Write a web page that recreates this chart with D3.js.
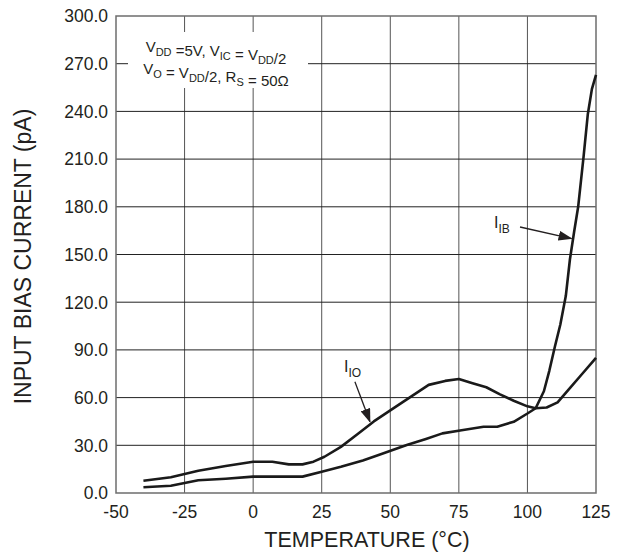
<!DOCTYPE html>
<html>
<head>
<meta charset="utf-8">
<script src="https://cdn.jsdelivr.net/npm/d3@7"></script>
<style>
  body { margin: 0; background: #fff; }
  svg { display: block; }
  text { font-family: "Liberation Sans", Arial, sans-serif; fill: #231f20; }
</style>
</head>
<body>
<svg id="chart" width="623" height="552"></svg>
<script>
// ---- data ----
const xTicks = [-50, -25, 0, 25, 50, 75, 100, 125];
const yTicks = [0, 30, 60, 90, 120, 150, 180, 210, 240, 270, 300];
const yTickLabels = ["0.0", "30.0", "60.0", "90.0", "120.0", "150.0", "180.0", "210.0", "240.0", "270.0", "300.0"];

const ioTemp = [-40, -30, -20, -10, 0, 7, 13, 18, 22, 26, 32, 38, 44, 50, 57, 64, 70, 75, 80, 85, 90, 95, 100, 103, 107, 111, 115, 120, 125];
const ioVal  = [7.7, 9.9, 14, 17, 19.7, 19.7, 18, 18, 19.7, 22.8, 29, 37, 45, 52, 60, 68, 70.5, 71.7, 69, 66.5, 62, 58, 54.5, 53.3, 53.8, 57, 65, 75, 85];

const ibTemp = [-40, -30, -20, -10, 0, 10, 18, 25, 32, 40, 46, 56, 63, 69, 76, 84, 89, 95, 100, 103, 106, 108, 110, 112, 114, 115.5, 117, 118.5, 120.5, 122, 123.5, 125];
const ibVal  = [3.6, 4.6, 8, 9, 10.3, 10.3, 10.3, 13.4, 16.5, 20.5, 24, 30.2, 34, 37.5, 39.5, 41.7, 41.7, 44.8, 50, 53.3, 64, 77, 92, 106, 124, 147, 164, 180, 212, 238, 254, 263];

// annotations in data units
const ioLabel = { text: "I", sub: "IO", t: 33.1, v: 76.1, from: [37.1, 70], to: [42.6, 44.8] };
const ibLabel = { text: "I", sub: "IB", t: 87.8, v: 166.7, from: [97.3, 167.3], to: [116.1, 160] };

// ---- layout ----
const svg = d3.select("#chart");
const m = { left: 116, top: 16, right: 27, bottom: 59 };
const W = 623 - m.left - m.right, H = 552 - m.top - m.bottom;
const x = d3.scaleLinear().domain([-50, 125]).range([0, W]);
const y = d3.scaleLinear().domain([0, 300]).range([H, 0]);
const g = svg.append("g").attr("transform", `translate(${m.left},${m.top})`);

// grid
g.selectAll(".vg").data(xTicks.slice(1, -1)).enter().append("line")
  .attr("x1", d => x(d)).attr("x2", d => x(d)).attr("y1", 0).attr("y2", H)
  .attr("stroke", "#555").attr("stroke-width", 1);
g.selectAll(".hg").data(yTicks.slice(1, -1)).enter().append("line")
  .attr("y1", d => y(d)).attr("y2", d => y(d)).attr("x1", 0).attr("x2", W)
  .attr("stroke", "#222").attr("stroke-width", 1);

// annotation box
g.append("rect").attr("x", 12).attr("y", 16).attr("width", 180).attr("height", 56).attr("fill", "#fff");
const cond = g.append("g").attr("text-anchor", "middle");
function richLine(parent, xx, yy, parts) {
  const t = parent.append("text").attr("x", xx).attr("y", yy).attr("font-size", 15);
  parts.forEach(p => {
    if (p.sub) {
      t.append("tspan").attr("dy", 4).attr("font-size", 11).text(p.sub);
      t.append("tspan").attr("dy", -4).text("");
    } else t.append("tspan").text(p.t);
  });
  return t;
}
richLine(cond, 100, 36, [{t:"V"},{sub:"DD"},{t:" =5V, V"},{sub:"IC"},{t:" = V"},{sub:"DD"},{t:"/2"}]);
richLine(cond, 100, 58, [{t:"V"},{sub:"O"},{t:" = V"},{sub:"DD"},{t:"/2, R"},{sub:"S"},{t:" = 50Ω"}]);

// frame
g.append("rect").attr("x", 0).attr("y", 0).attr("width", W).attr("height", H)
  .attr("fill", "none").attr("stroke", "#6d6d6d").attr("stroke-width", 1.5);

// curves
const line = d3.line().x(d => x(d[0])).y(d => y(d[1]));
g.append("path").datum(d3.zip(ioTemp, ioVal)).attr("d", line)
  .attr("fill", "none").attr("stroke", "#1a1a1a").attr("stroke-width", 2.6).attr("stroke-linejoin", "round");
g.append("path").datum(d3.zip(ibTemp, ibVal)).attr("d", line)
  .attr("fill", "none").attr("stroke", "#1a1a1a").attr("stroke-width", 2.6).attr("stroke-linejoin", "round");

// arrow marker
svg.append("defs").append("marker").attr("id", "ah")
  .attr("markerUnits", "userSpaceOnUse").attr("viewBox", "0 0 14 10")
  .attr("refX", 13).attr("refY", 5).attr("markerWidth", 14).attr("markerHeight", 10)
  .attr("orient", "auto")
  .append("path").attr("d", "M0,0 L14,5 L0,10 Z").attr("fill", "#231f20");

[ioLabel, ibLabel].forEach(a => {
  g.append("line").attr("x1", x(a.from[0])).attr("y1", y(a.from[1]))
    .attr("x2", x(a.to[0])).attr("y2", y(a.to[1]))
    .attr("stroke", "#231f20").attr("stroke-width", 1.3).attr("marker-end", "url(#ah)");
  const t = g.append("text").attr("x", x(a.t)).attr("y", y(a.v)).attr("font-size", 16);
  t.append("tspan").text(a.text);
  t.append("tspan").attr("dy", 5).attr("font-size", 12).text(a.sub);
});

// axes labels
g.selectAll(".yt").data(yTicks).enter().append("text")
  .attr("x", -8).attr("y", d => y(d)).attr("dy", "0.36em")
  .attr("text-anchor", "end").attr("font-size", 17.5)
  .text((d, i) => yTickLabels[i]);
g.selectAll(".xt").data(xTicks).enter().append("text")
  .attr("x", d => x(d)).attr("y", H + 25)
  .attr("text-anchor", "middle").attr("font-size", 17.5)
  .text(d => d);

g.append("text").attr("x", W / 2 + 11).attr("y", H + 54).attr("text-anchor", "middle")
  .attr("font-size", 21.5).text("TEMPERATURE (°C)");
g.append("text").attr("transform", `translate(${-85},${H / 2 + 2}) rotate(-90)`)
  .attr("text-anchor", "middle").attr("font-size", 23).text("INPUT BIAS CURRENT (pA)");
</script>
</body>
</html>
